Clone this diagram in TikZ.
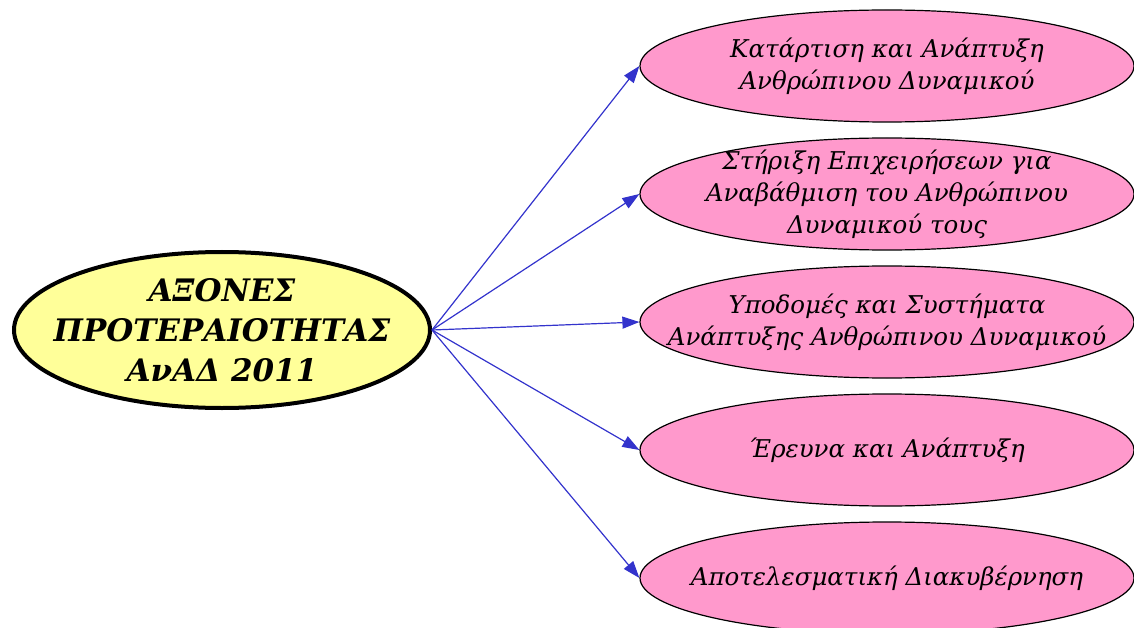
\documentclass[tikz,border=0pt]{standalone}
\usepackage{fontspec}
\setmainfont{DejaVu Serif}
\usetikzlibrary{shapes.geometric,arrows.meta}
\definecolor{axisyellow}{HTML}{FFFF99}
\definecolor{axispink}{HTML}{FF99CC}
\definecolor{arrowblue}{HTML}{3333CC}
\tikzset{
  mainaxis/.style={draw,ellipse,line width=4pt,fill=axisyellow,minimum width=416pt,minimum height=156pt,inner sep=0pt},
  maintext/.style={align=center,inner sep=0pt,font=\fontsize{31}{40}\selectfont\bfseries\itshape},
  subaxis/.style={draw,ellipse,line width=1.2pt,fill=axispink,minimum width=494pt,minimum height=112pt,inner sep=0pt},
  subtext/.style={align=center,inner sep=0pt,font=\fontsize{24.5}{32}\selectfont\itshape}
}
\begin{document}
\begin{tikzpicture}[x=1pt,y=-1pt,>={Triangle[length=17pt,width=12pt]}]
\useasboundingbox (0,0) rectangle (1134,628);
% central node
\node[mainaxis] (axes) at (222,330) {};
\node[maintext] (axes-t) at (axes.center) {ΑΞΟΝΕΣ\\ΠΡΟΤΕΡΑΙΟΤΗΤΑΣ\\ΑνΑΔ 2011};
% priority axes
\foreach \n/\y/\label in {1/66/{Κατάρτιση και Ανάπτυξη\\Ανθρώπινου Δυναμικού},
  2/194/{Στήριξη Επιχειρήσεων για\\Αναβάθμιση του Ανθρώπινου\\Δυναμικού τους},
  3/322/{Υποδομές και Συστήματα\\Ανάπτυξης Ανθρώπινου Δυναμικού},
  4/450/{Έρευνα και Ανάπτυξη},
  5/578/{Αποτελεσματική Διακυβέρνηση}}
{
  \node[subaxis] (ax\n) at (887,\y) {};
  \node[subtext] (ax\n-t) at (ax\n.center) {\label};
  \draw[->,arrowblue,line width=1.2pt] (axes.east) -- (ax\n.west);
}
\end{tikzpicture}
\end{document}
